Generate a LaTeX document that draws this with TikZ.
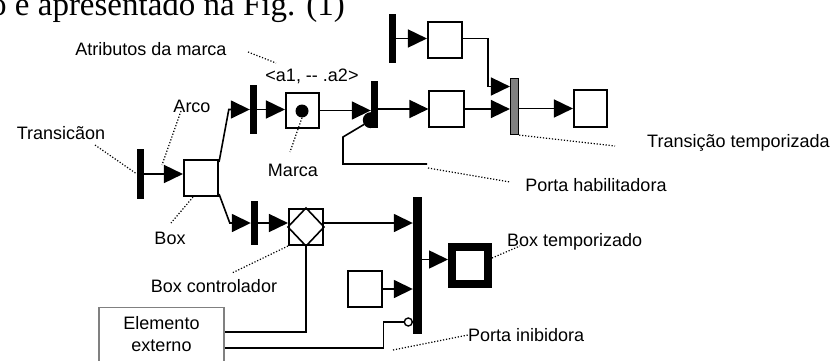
\documentclass[tikz,border=0pt]{standalone}
\usepackage{fontspec}
\setmainfont{Liberation Sans}
\newfontfamily\serifx{Liberation Serif}
\usetikzlibrary{arrows.meta}
\definecolor{midgray}{RGB}{128,128,128}
\begin{document}
\begin{tikzpicture}[x=1pt,y=-1pt,
  trans/.style={fill=black, draw=none, inner sep=0pt, minimum width=7pt},
  pbox/.style={draw=black, line width=1.6pt, fill=white, inner sep=0pt, minimum width=34.5pt, minimum height=36.5pt},
  arr/.style={line width=1.6pt, -{Triangle[length=19pt,width=18pt]}},
  ln/.style={line width=1.6pt},
  lead/.style={line width=1.2pt, dash pattern=on 1.2pt off 1.8pt},
  lbl/.style={font=\fontsize{18}{21.6}\selectfont, inner sep=0pt}]
\useasboundingbox (0,0) rectangle (835,361);
\clip (0,0) rectangle (835,361);

% heading text (clipped at top)
\node[anchor=base west, inner sep=0pt, font=\serifx\fontsize{33}{36}\selectfont] (head) at (-10,15.5) {o é apresentado na Fig. (1)};

% transitions
\node[trans, minimum height=50pt] (T1) at (140.5,174) {};
\node[trans, minimum height=49pt] (T2) at (253.5,109.5) {};
\node[trans, minimum height=47pt] (T3) at (374.5,104.5) {};
\node[trans, minimum height=49pt] (T4) at (392,38.5) {};
\node[draw=black, line width=1.2pt, fill=midgray, inner sep=0pt, minimum width=8pt, minimum height=56pt] (TT) at (514.5,106.5) {};
\node[trans, minimum height=44pt] (T5) at (254.5,223) {};
\node[trans, minimum width=9pt, minimum height=137pt] (T6) at (417.5,265.5) {};

% boxes
\node[pbox] (B1) at (201,178) {};
\node[pbox, minimum width=33.5pt, minimum height=35.5pt] (Bm) at (302.5,110.5) {};
\node[circle, fill=black, inner sep=0pt, minimum size=13pt] (dot) at (302,111) {};
\node[pbox] (Btop) at (445,40) {};
\node[pbox] (Bmid) at (446.5,109) {};
\node[pbox, minimum width=33.5pt, minimum height=37.5pt] (Bout) at (590.5,108.5) {};
\node[pbox] (Bc) at (306,227) {};
\draw[ln, line join=miter] (Bc.north) -- (Bc.east) -- (Bc.south) -- (Bc.west) -- cycle;
\node[pbox] (Bs) at (365,289) {};
\node[draw=black, line width=8pt, fill=white, inner sep=0pt, minimum width=36pt, minimum height=37pt] (Btim) at (470,265.5) {};
\node[draw=midgray, line width=1.4pt, fill=white, inner sep=0pt, minimum width=125pt, minimum height=66pt, anchor=north] (Ext) at (161.5,307) {};
\node[lbl, align=center] (ExtT) at (161.5,334) {Elemento\\externo};

% arcs
\draw[arr] (T1.east) -- (T1.east -| B1.west);
\draw[arr] ([yshift=-3pt]B1.north east) -- ([xshift=-21pt]T2.west) -- (T2.west);
\draw[arr] (T2.east) -- (T2.east -| Bm.west);
\draw[arr] (Bm.east) -- (Bm.east -| T3.west);
\draw[arr] (T3.east |- Bmid.west) -- (Bmid.west);
\draw[arr] (Bmid.east) -- (Bmid.east -| TT.west);
\draw[arr] (T4.east) -- (T4.east -| Btop.west);
\draw[arr] (Btop.east |- T4.east) -| ([xshift=-22pt,yshift=20pt]TT.west) -- ([yshift=20pt]TT.west);
\draw[arr] (TT.east |- Bout.west) -- (Bout.west);
\draw[arr] ([yshift=3pt]B1.south east) -- ([xshift=-21pt]T5.west) -- (T5.west);
\draw[arr] (T5.east) -- (T5.east -| Bc.west);
\draw[arr] (Bc.east |- T5.east) -- (T6.west |- T5.east);
\draw[arr] (Bs.east) -- (Bs.east -| T6.west);
\coordinate (t6o) at ([yshift=6pt]T6.east);
\draw[arr] (t6o) -- (t6o -| Btim.west);

% enabling gate
\coordinate (gc) at ([yshift=8pt]T3.south west);
\fill ([yshift=8pt]gc) arc[start angle=90, end angle=270, radius=8pt] -- cycle;
\coordinate (gend) at (427,164);
\draw[ln] ([shift={(212:8pt)}]gc) -- (343,137) -- (343,164) -- (gend);

% inhibitor gate
\node[circle, draw=black, line width=1.4pt, fill=white, inner sep=0pt, minimum size=8pt] (inh) at ([xshift=-4.5pt,yshift=-56.5pt]T6.west) {};
\draw[ln] (inh.west) -- ++(-20pt,0) |- ([yshift=-7pt]Ext.east);
\draw[ln] (Bc.south) |- ([yshift=9pt]Ext.east);

% labels
\node[lbl] (LAtr) at (151,49) {Atributos da marca};
\node[lbl] (LAttr) at (312,76) {<a1, {-}{-} .a2>};
\node[lbl] (LArco) at (192,106) {Arco};
\node[lbl] (LTr) at (61,133) {Transicãon};
\node[lbl] (LMarca) at (293,170) {Marca};
\node[lbl] (LBox) at (170,238) {Box};
\node[lbl] (LBc) at (214,286) {Box controlador};
\node[lbl] (LPh) at (596,185) {Porta habilitadora};
\node[lbl, anchor=west] (LTT) at (647,143) {Transição temporizada};
\node[lbl, anchor=west] (LBt) at (507,242) {Box temporizado};
\node[lbl, anchor=west] (LPi) at (468,335) {Porta inibidora};

% leaders
\draw[lead] (248,52) -- (276,63);
\draw[lead] (dot.south) -- (290,152);
\draw[lead] (181,111) -- (162,165);
\draw[lead] (95,145) -- (T1.west);
\draw[lead] ([xshift=-8pt]B1.south) -- (171,223);
\draw[lead] (Bc.south west) -- (232,273);
\draw[lead] (428,168) -- (510,182);
\draw[lead] (TT.south east) -- (615,146);
\draw[lead] (Btim.east |- 0,258) -- (520,246);
\draw[lead] (393,350) -- (LPi.west);
\end{tikzpicture}
\end{document}
